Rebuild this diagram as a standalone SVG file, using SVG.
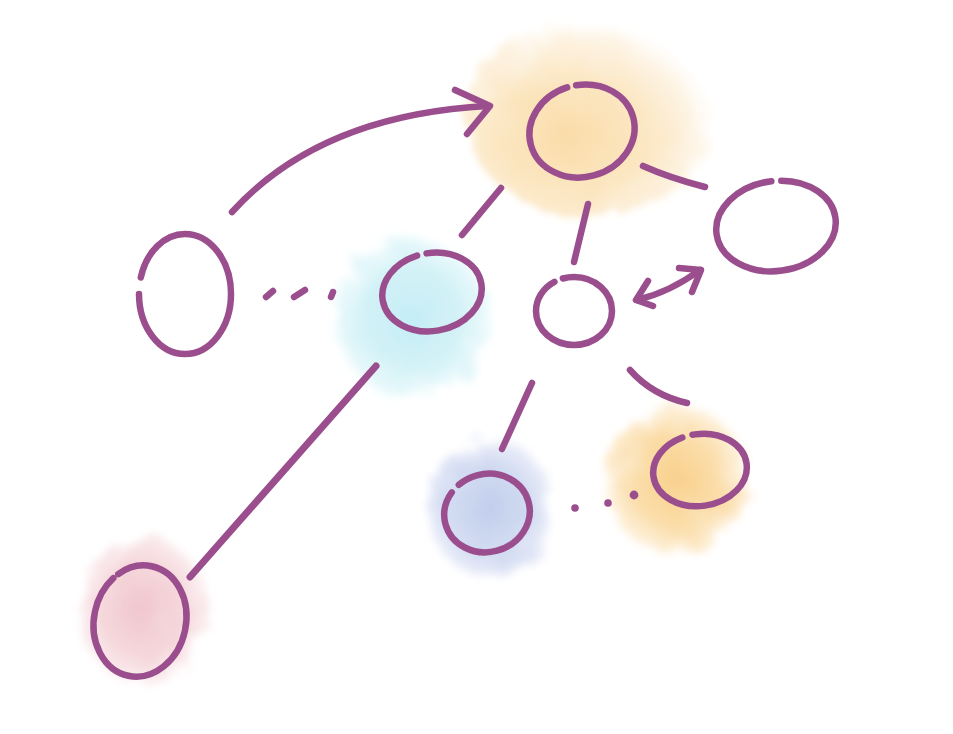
<svg xmlns="http://www.w3.org/2000/svg" width="953" height="734" viewBox="0 0 953 734">
<style>
.ink{fill:none;stroke:#9b4e8d;stroke-width:6.5;stroke-linecap:round;stroke-linejoin:round}
.node{fill:none;stroke:#9b4e8d;stroke-width:6.5;stroke-linecap:round}
.dot{fill:#9b4e8d}
</style>
<defs>
<filter id="soft" x="-50%" y="-50%" width="200%" height="200%">
<feTurbulence type="fractalNoise" baseFrequency="0.035" numOctaves="3" seed="5" result="n"/>
<feDisplacementMap in="SourceGraphic" in2="n" scale="26" result="d"/>
<feGaussianBlur in="d" stdDeviation="3.5"/>
</filter>
<radialGradient id="gOrange" cx="0.42" cy="0.6" r="0.6"><stop offset="0" stop-color="#fadca8"/><stop offset="0.55" stop-color="#fce8c6"/><stop offset="0.85" stop-color="#fdf2e0" stop-opacity="0.8"/><stop offset="1" stop-color="#fef7ee" stop-opacity="0"/></radialGradient>
<radialGradient id="gOrange2"><stop offset="0" stop-color="#f8d08c"/><stop offset="0.6" stop-color="#fbdfad"/><stop offset="0.88" stop-color="#fdebcd" stop-opacity="0.85"/><stop offset="1" stop-color="#fdf1df" stop-opacity="0"/></radialGradient>
<radialGradient id="gCyan"><stop offset="0" stop-color="#c4edf5"/><stop offset="0.6" stop-color="#d4f2f7"/><stop offset="0.88" stop-color="#e3f7fa" stop-opacity="0.85"/><stop offset="1" stop-color="#eefafc" stop-opacity="0"/></radialGradient>
<radialGradient id="gBlue"><stop offset="0" stop-color="#c0cdeb"/><stop offset="0.6" stop-color="#d3dcf2"/><stop offset="0.88" stop-color="#e3e8f7" stop-opacity="0.85"/><stop offset="1" stop-color="#eef1fa" stop-opacity="0"/></radialGradient>
<radialGradient id="gPink"><stop offset="0" stop-color="#f0c6cc"/><stop offset="0.6" stop-color="#f5d8dc"/><stop offset="0.88" stop-color="#f9e6e9" stop-opacity="0.85"/><stop offset="1" stop-color="#fbeef0" stop-opacity="0"/></radialGradient>
</defs>
<rect width="953" height="734" fill="#ffffff"/>
<g id="glows">
<ellipse cx="590" cy="118" rx="125" ry="98" fill="url(#gOrange)" filter="url(#soft)"/>
<ellipse cx="412" cy="318" rx="82" ry="84" fill="url(#gCyan)" filter="url(#soft)"/>
<ellipse cx="490" cy="508" rx="66" ry="74" fill="url(#gBlue)" filter="url(#soft)"/>
<ellipse cx="676" cy="480" rx="76" ry="78" fill="url(#gOrange2)" filter="url(#soft)"/>
<ellipse cx="143" cy="610" rx="68" ry="78" fill="url(#gPink)" filter="url(#soft)"/>
</g>
<g id="connectors">
<path class="ink" d="M232,212 Q320,115 488,106"/>
<path class="ink" d="M455,90 L490,106 L467,134"/>
<path class="ink" d="M501,188 L462,235"/>
<path class="ink" d="M588,204 L574,262"/>
<path class="ink" d="M643,166 Q670,178 705,187"/>
<path class="ink" d="M637,300 Q670,292 700,270"/>
<path class="ink" d="M648,281 L636,300 L653,306"/>
<path class="ink" d="M679,268 L701,270 L692,292"/>
<path class="ink" d="M266,297 L273,291"/>
<path class="ink" d="M294,297 L305,290"/>
<path class="ink" d="M331,297 L333,292"/>
<path class="ink" d="M376,366 L190,577" style="stroke-width:7"/>
<path class="ink" d="M532,383 L502,449"/>
<path class="ink" d="M630,370 Q652,395 687,403"/>
<circle class="dot" cx="575" cy="508" r="3.8"/>
<circle class="dot" cx="608" cy="503" r="3.8"/>
<circle class="dot" cx="634" cy="495" r="4.4"/>
</g>
<g id="node-top"><ellipse class="node" cx="582" cy="131" rx="53" ry="46" transform="rotate(-15 582 131)" pathLength="100" stroke-dasharray="97 3" stroke-dashoffset="23"/></g>
<g id="node-right"><ellipse class="node" cx="776" cy="226" rx="60" ry="45" transform="rotate(-8 776 226)" pathLength="100" stroke-dasharray="97 3" stroke-dashoffset="21.5"/></g>
<g id="node-small"><ellipse class="node" cx="574" cy="311" rx="38" ry="34" pathLength="100" stroke-dasharray="96 4" stroke-dashoffset="30"/></g>
<g id="node-left"><ellipse class="node" cx="185" cy="294" rx="46" ry="60" pathLength="100" stroke-dasharray="95 5" stroke-dashoffset="45"/></g>
<g id="node-cyan"><ellipse class="node" cx="432" cy="292" rx="50" ry="39" transform="rotate(-10 432 292)" pathLength="100" stroke-dasharray="96.5 3.5" stroke-dashoffset="24.5"/></g>
<g id="node-blue"><ellipse class="node" cx="487" cy="513" rx="43" ry="39" transform="rotate(-15 487 513)" pathLength="100" stroke-dasharray="96 4" stroke-dashoffset="33"/></g>
<g id="node-orange"><ellipse class="node" cx="700" cy="470" rx="47" ry="36" transform="rotate(-8 700 470)" pathLength="100" stroke-dasharray="96 4" stroke-dashoffset="26"/></g>
<g id="node-pink"><ellipse class="node" cx="140" cy="621" rx="46" ry="56" transform="rotate(12 140 621)" pathLength="100" stroke-dasharray="98 2" stroke-dashoffset="36"/></g>
</svg>
